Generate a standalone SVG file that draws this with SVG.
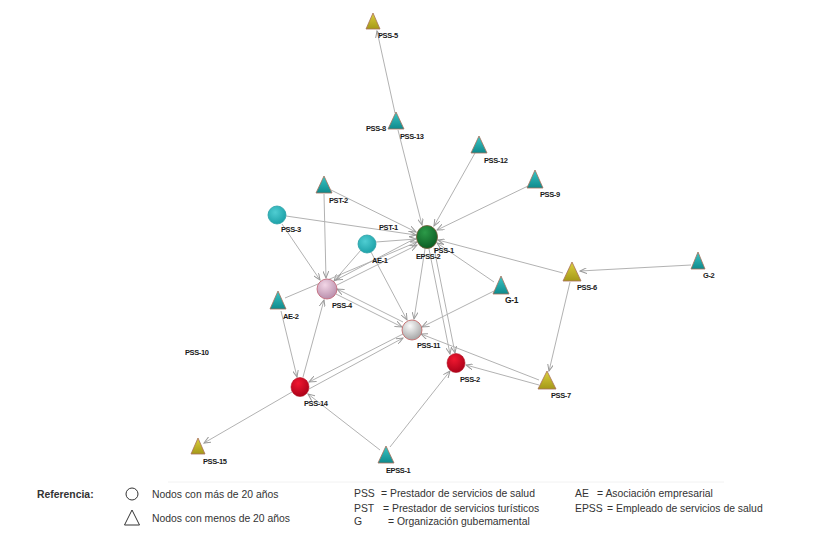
<svg xmlns="http://www.w3.org/2000/svg" width="820" height="543" viewBox="0 0 820 543">
<style>
.e{stroke:#b2b2b2;stroke-width:1;fill:none;marker-end:url(#ah)}
.lb{font-family:"Liberation Sans",Arial,sans-serif;font-size:7.5px;font-weight:bold;letter-spacing:-0.4px;fill:#1a1a1a}
.lg{font-family:"Liberation Sans",Arial,sans-serif;font-size:10.4px;fill:#333}
.tt{stroke:#a8705a;stroke-width:0.8;fill:url(#gTeal)}
.ty{stroke:#a8705a;stroke-width:0.8;fill:url(#gYel)}
</style>
<defs>
<marker id="ah" markerUnits="userSpaceOnUse" markerWidth="8" markerHeight="6" refX="7" refY="3" orient="auto">
<path d="M0,0 L7,3 L0,6" fill="none" stroke="#9a9a9a" stroke-width="1"/>
</marker>
<linearGradient id="gTeal" x1="0" y1="0" x2="0" y2="1"><stop offset="0" stop-color="#3cc6c6"/><stop offset="1" stop-color="#0f8a8c"/></linearGradient>
<linearGradient id="gYel" x1="0" y1="0" x2="0" y2="1"><stop offset="0" stop-color="#ddd03e"/><stop offset="1" stop-color="#a49818"/></linearGradient>
<radialGradient id="gCy" cx="0.4" cy="0.35" r="0.7"><stop offset="0" stop-color="#4fcdd2"/><stop offset="1" stop-color="#1a9fa6"/></radialGradient>
<radialGradient id="gGr" cx="0.4" cy="0.3" r="0.75"><stop offset="0" stop-color="#2c9a48"/><stop offset="1" stop-color="#0a5a22"/></radialGradient>
<radialGradient id="gPk" cx="0.4" cy="0.3" r="0.75"><stop offset="0" stop-color="#f2d6e6"/><stop offset="1" stop-color="#b58aa8"/></radialGradient>
<radialGradient id="gGy" cx="0.4" cy="0.3" r="0.75"><stop offset="0" stop-color="#fafafa"/><stop offset="1" stop-color="#a0a0a0"/></radialGradient>
<radialGradient id="gRd" cx="0.4" cy="0.3" r="0.75"><stop offset="0" stop-color="#f01830"/><stop offset="1" stop-color="#a80018"/></radialGradient>
</defs>
<rect width="820" height="543" fill="#fff"/>

<g id="connectors">
<line class="e" x1="395" y1="113" x2="377" y2="31"/>
<line class="e" x1="398" y1="130" x2="422" y2="225"/>
<line class="e" x1="475" y1="153" x2="434" y2="226"/>
<line class="e" x1="528" y1="186" x2="437" y2="230"/>
<line class="e" x1="331" y1="190" x2="416" y2="232"/>
<line class="e" x1="324" y1="194" x2="326" y2="278"/>
<line class="e" x1="286" y1="216" x2="416" y2="235"/>
<line class="e" x1="282" y1="224" x2="320" y2="280"/>
<line class="e" x1="376" y1="242" x2="416" y2="239"/>
<line class="e" x1="361" y1="250" x2="334" y2="281"/>
<line class="e" x1="371" y1="252" x2="407" y2="320"/>
<line class="e" x1="285" y1="298" x2="417" y2="242"/>
<line class="e" x1="337" y1="285" x2="417" y2="245"/>
<line class="e" x1="416" y1="238" x2="336" y2="280"/>
<line class="e" x1="281" y1="311" x2="297" y2="377"/>
<line class="e" x1="303" y1="377" x2="324" y2="300"/>
<line class="e" x1="336" y1="294" x2="402" y2="327"/>
<line class="e" x1="403" y1="322" x2="337" y2="289"/>
<line class="e" x1="425" y1="249" x2="414" y2="319"/>
<line class="e" x1="494" y1="291" x2="422" y2="327"/>
<line class="e" x1="494" y1="282" x2="437" y2="243"/>
<line class="e" x1="563" y1="273" x2="438" y2="240"/>
<line class="e" x1="691" y1="265" x2="580" y2="271"/>
<line class="e" x1="570" y1="282" x2="549" y2="371"/>
<line class="e" x1="539" y1="385" x2="466" y2="365"/>
<line class="e" x1="539" y1="380" x2="421" y2="334"/>
<line class="e" x1="429" y1="249" x2="450" y2="354"/>
<line class="e" x1="434" y1="248" x2="455" y2="353"/>
<line class="e" x1="403" y1="334" x2="309" y2="382"/>
<line class="e" x1="309" y1="389" x2="403" y2="338"/>
<line class="e" x1="380" y1="450" x2="308" y2="394"/>
<line class="e" x1="390" y1="447" x2="450" y2="371"/>
<line class="e" x1="292" y1="392" x2="204" y2="443"/>
</g>

<g id="PSS-5"><polygon class="ty" points="373,13 380,29 366,29"/><text class="lb" x="378" y="38">PSS-5</text></g>
<g id="PSS-13"><polygon class="tt" points="396,112 404,129 388,129"/><text class="lb" x="400" y="139">PSS-13</text></g>
<g id="PSS-8"><text class="lb" x="366" y="131">PSS-8</text></g>
<g id="PSS-12"><polygon class="tt" points="479,136 487,153 471,153"/><text class="lb" x="484" y="163">PSS-12</text></g>
<g id="PSS-9"><polygon class="tt" points="535,170 543,188 527,188"/><text class="lb" x="540" y="197">PSS-9</text></g>
<g id="PST-2"><polygon class="tt" points="324,176 332,193 316,193"/><text class="lb" x="329" y="203">PST-2</text></g>
<g id="PSS-3"><circle cx="277" cy="215" r="9" fill="url(#gCy)" stroke="#2aa0a6" stroke-width="0.8"/><text class="lb" x="281" y="232">PSS-3</text></g>
<g id="PST-1"><text class="lb" x="379" y="230">PST-1</text></g>
<g id="AE-1"><circle cx="367" cy="244" r="9" fill="url(#gCy)" stroke="#2aa0a6" stroke-width="0.8"/><text class="lb" x="372" y="263">AE-1</text></g>
<g id="EPSS-2"><ellipse cx="427" cy="237" rx="10.5" ry="11.5" fill="url(#gGr)" stroke="#7a5a3a" stroke-width="0.8"/><text class="lb" x="416" y="259">EPSS-2</text></g>
<g id="PSS-1"><text class="lb" x="434" y="253">PSS-1</text></g>
<g id="G-1"><polygon class="tt" points="501,276 509,294 493,294"/><text class="lb" x="505" y="303" style="font-size:8.5px">G-1</text></g>
<g id="PSS-6"><polygon class="ty" points="572,262 581,281 563,281"/><text class="lb" x="577" y="290">PSS-6</text></g>
<g id="G-2"><polygon class="tt" points="698,252 705,269 691,269"/><text class="lb" x="703" y="278">G-2</text></g>
<g id="AE-2"><polygon class="tt" points="278,291 286,309 270,309"/><text class="lb" x="283" y="319">AE-2</text></g>
<g id="PSS-4"><circle cx="327" cy="289" r="10" fill="url(#gPk)" stroke="#c06070" stroke-width="0.8"/><text class="lb" x="332" y="308">PSS-4</text></g>
<g id="PSS-11"><circle cx="412" cy="330" r="10" fill="url(#gGy)" stroke="#c06060" stroke-width="0.8"/><text class="lb" x="417" y="348">PSS-11</text></g>
<g id="PSS-10"><text class="lb" x="185" y="355">PSS-10</text></g>
<g id="PSS-2"><ellipse cx="456" cy="363" rx="9" ry="9.5" fill="url(#gRd)" stroke="#b01020" stroke-width="0.6"/><text class="lb" x="460" y="382">PSS-2</text></g>
<g id="PSS-7"><polygon class="ty" points="547,371 556,389 538,389"/><text class="lb" x="551" y="398">PSS-7</text></g>
<g id="PSS-14"><ellipse cx="300" cy="387" rx="9" ry="9.5" fill="url(#gRd)" stroke="#b01020" stroke-width="0.6"/><text class="lb" x="304" y="406">PSS-14</text></g>
<g id="PSS-15"><polygon class="ty" points="198,438 205,454 191,454"/><text class="lb" x="203" y="464">PSS-15</text></g>
<g id="EPSS-1"><polygon class="tt" points="386,446 394,463 378,463"/><text class="lb" x="386" y="473">EPSS-1</text></g>

<g id="legend">
<line x1="168" y1="482" x2="724" y2="482" stroke="#f2f2f2" stroke-width="1"/>
<text class="lg" x="37" y="498" style="font-weight:bold">Referencia:</text>
<circle cx="132" cy="494" r="6" fill="none" stroke="#333" stroke-width="1"/>
<text class="lg" x="152" y="498">Nodos con más de 20 años</text>
<polygon points="132,510 139.5,525 124.5,525" fill="none" stroke="#333" stroke-width="1"/>
<text class="lg" x="152" y="522">Nodos con menos de 20 años</text>
<text class="lg" x="354" y="497">PSS</text><text class="lg" x="381" y="497">= Prestador de servicios de salud</text>
<text class="lg" x="354" y="512">PST</text><text class="lg" x="383" y="512">= Prestador de servicios turísticos</text>
<text class="lg" x="354" y="525">G</text><text class="lg" x="388" y="525">= Organización gubemamental</text>
<text class="lg" x="575" y="497">AE</text><text class="lg" x="597" y="497">= Asociación empresarial</text>
<text class="lg" x="575" y="512">EPSS</text><text class="lg" x="607" y="512">= Empleado de servicios de salud</text>
</g>
</svg>
